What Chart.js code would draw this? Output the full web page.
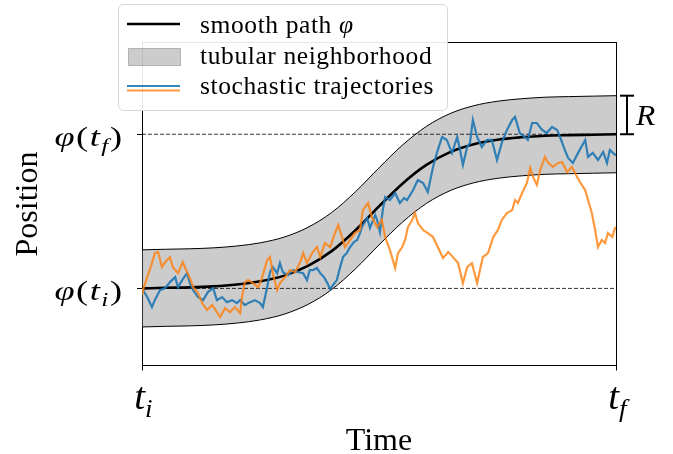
<!DOCTYPE html>
<html><head><meta charset="utf-8">
<script src="https://cdn.jsdelivr.net/npm/chart.js@4.4.1/dist/chart.umd.min.js"></script>
<style>html,body{margin:0;padding:0;background:#fff;overflow:hidden}#wrap{width:673px;height:454px}</style>
</head><body><div id="wrap"><canvas id="c" width="673" height="454"></canvas></div>
<script>
// ---- data (position in units where phi(t_i)=0, phi(t_f)=1; time in units where t_i=0, t_f=1) ----
const timeGrid = [0,0.05,0.1,0.15,0.2,0.25,0.3,0.35,0.4,0.45,0.5,0.55,0.6,0.65,0.7,0.75,0.8,0.85,0.9,0.95,1];
const smoothPath = [0,.004,.007,.013,.025,.046,.083,.146,.242,.376,.532,.681,.801,.884,.935,.964,.980,.990,.994,.997,1];
const tubeUpper = [.25,.254,.257,.263,.275,.296,.333,.396,.492,.626,.782,.931,1.051,1.134,1.185,1.214,1.23,1.24,1.244,1.247,1.25];
const tubeLower = [-.25,-.246,-.243,-.237,-.225,-.204,-.167,-.104,-.008,.126,.282,.431,.551,.634,.685,.714,.73,.74,.744,.747,.75];

const blueT = [0,.002,.011,.021,.027,.038,.049,.059,.070,.076,.086,.095,.101,.108,.118,.129,.139,.150,.158,.169,
.179,.190,.200,.207,.217,.228,.238,.249,.255,.264,.270,.276,.285,.291,.297,.308,.319,.329,.340,.348,
.354,.361,.369,.376,.384,.390,.397,.403,.411,.418,.424,.432,.439,.447,.454,.460,.464,.470,.475,.481,
.485,.492,.496,.502,.508,.513,.523,.534,.544,.553,.559,.572,.582,.593,.603,.614,.622,.633,.643,.654,
.665,.671,.677,.686,.692,.698,.707,.717,.728,.738,.749,.759,.770,.781,.787,.797,.808,.814,.823,.833,
.844,.854,.865,.876,.882,.892,.899,.909,.920,.935,.941,.951,.962,.973,.981,.987,.998,1];
const blueY = [0,-.011,-.056,-.121,-.076,-.011,.002,.041,.073,.008,.060,.099,.034,-.011,-.056,-.076,-.024,.002,-.076,-.056,
-.089,-.076,-.095,-.076,-.108,-.089,-.076,-.095,-.121,.008,.106,.138,.099,.164,.106,.086,.119,.106,.099,.054,
.119,.119,.132,.099,.073,.041,-.005,.021,.054,.138,.203,.229,.268,.301,.314,.359,.398,.431,.456,.392,
.424,.476,.444,.366,.508,.593,.573,.619,.554,.586,.573,.638,.703,.684,.625,.787,.878,.982,.963,.878,
.982,.898,.801,.917,.944,1.093,.982,.917,.963,.963,.833,.944,1.028,1.093,1.112,1.008,.982,.963,1.073,1.073,
1.028,1.008,1.047,1.028,.982,.898,.846,.814,.879,.963,.853,.879,.833,.885,.814,.898,.866,.87];

const orangeT = [0,.002,.011,.021,.027,.034,.042,.049,.059,.065,.076,.086,.095,.101,.108,.118,.127,.137,.148,.158,
.165,.175,.186,.196,.207,.211,.217,.224,.234,.245,.253,.264,.270,.276,.285,.291,.302,.312,.323,.333,
.340,.348,.359,.369,.376,.386,.397,.407,.414,.422,.428,.439,.449,.460,.466,.477,.485,.496,.506,.513,
.523,.534,.540,.549,.555,.561,.570,.576,.582,.593,.603,.614,.624,.635,.646,.656,.667,.677,.686,.696,
.707,.713,.719,.730,.741,.751,.759,.770,.781,.787,.793,.802,.812,.819,.825,.833,.840,.850,.857,.867,
.878,.886,.897,.907,.918,.924,.935,.941,.949,.956,.962,.970,.977,.983,.992,.998,1];
const orangeY = [0,-.011,.073,.164,.229,.236,.138,.171,.203,.138,.099,.171,.106,.067,.008,-.030,-.095,-.141,-.108,-.154,
-.186,-.128,-.154,-.121,-.160,-.056,.041,.054,.034,.008,.067,.184,.203,.099,-.011,.034,.073,.119,.106,.164,
.229,.164,.229,.268,.203,.294,.268,.359,.411,.333,.268,.314,.359,.379,.508,.554,.463,.398,.444,.333,
.249,.132,.229,.268,.314,.398,.444,.489,.424,.379,.359,.333,.268,.197,.236,.203,.164,.034,.138,.164,
.034,.119,.203,.229,.333,.379,.444,.489,.508,.573,.554,.619,.684,.781,.723,.671,.768,.853,.814,.788,
.814,.820,.755,.788,.723,.690,.638,.573,.489,.379,.268,.314,.294,.359,.333,.392,.39];

const yTickValues = [0, 1];
const yTickLabels = ['φ(t_i)', 'φ(t_f)'];
const xTickValues = [0, 1];
const xTickLabels = ['t_i', 't_f'];
const xTitle = 'Time';
const yTitle = 'Position';
const legendLabels = ['smooth path φ', 'tubular neighborhood', 'stochastic trajectories'];
const radiusLabel = 'R';

// ---- helpers ----
const xy = (ts, vs) => ts.map((t, i) => ({x: t, y: vs[i]}));
const SERIF = '"Liberation Serif", "DejaVu Serif", serif';

function drawMath(ctx, str, x, y, size, align, italicRe, hs, gap) {
  hs = hs || 1; gap = gap || 0;
  const parts = [];
  for (let i = 0; i < str.length; i++) {
    let c = str[i], sub = false;
    if (c === '_') { sub = true; c = str[++i]; }
    parts.push({c, sub, it: italicRe.test(c)});
  }
  const fontFor = p => (p.it ? 'italic ' : '') + (p.sub ? size * 0.7 : size) + 'px ' + SERIF;
  let w = 0;
  parts.forEach(p => { ctx.font = fontFor(p); p.w = ctx.measureText(p.c).width * hs; w += p.w; });
  w += gap * (parts.length - 1);
  let cx = align === 'right' ? x - w : align === 'center' ? x - w / 2 : x;
  ctx.textAlign = 'left';
  ctx.textBaseline = 'alphabetic';
  parts.forEach(p => {
    ctx.font = fontFor(p);
    ctx.save();
    ctx.translate(cx, y + (p.sub ? size * 0.22 : 0));
    ctx.scale(hs, 1);
    ctx.fillText(p.c, 0, 0);
    ctx.restore();
    cx += p.w + gap;
  });
}

function seg(ctx, x1, y1, x2, y2) { ctx.beginPath(); ctx.moveTo(x1, y1); ctx.lineTo(x2, y2); ctx.stroke(); }

const deco = {
  id: 'deco',
  afterDraw(chart) {
    const ctx = chart.ctx, a = chart.chartArea, xs = chart.scales.x, ys = chart.scales.y;
    ctx.save();
    ctx.fillStyle = '#000';
    ctx.strokeStyle = '#000';
    ctx.lineWidth = 1;
    // y ticks + labels
    yTickValues.forEach((v, i) => {
      const py = Math.round(ys.getPixelForValue(v)) + 0.5;
      seg(ctx, a.left - 5, py, a.left, py);
      drawMath(ctx, yTickLabels[i], a.left - 20, py + 11, 28, 'right', /[A-Za-zφ]/, 1.3, 1.5);
    });
    // x ticks + labels
    xTickValues.forEach((v, i) => {
      const px = Math.round(xs.getPixelForValue(v)) + 0.5;
      seg(ctx, px, a.bottom, px, a.bottom + 5);
      drawMath(ctx, xTickLabels[i], px + 1, a.bottom + 43, 37, 'center', /[A-Za-zφ]/, 1.05, 0);
    });
    // axis titles
    ctx.font = '32px ' + SERIF;
    ctx.textAlign = 'center';
    ctx.textBaseline = 'alphabetic';
    ctx.fillText(xTitle, (a.left + a.right) / 2, a.bottom + 84);
    ctx.save();
    ctx.translate(37, (a.top + a.bottom) / 2);
    ctx.rotate(-Math.PI / 2);
    ctx.fillText(yTitle, 0, 0);
    ctx.restore();
    // R marker (tube radius)
    const last = timeGrid.length - 1;
    const yA = ys.getPixelForValue(smoothPath[last]);
    const yB = ys.getPixelForValue(tubeUpper[last]);
    const mx = a.right + 11;
    ctx.lineWidth = 2;
    seg(ctx, mx, yA, mx, yB);
    seg(ctx, mx - 7, yA, mx + 7, yA);
    seg(ctx, mx - 7, yB, mx + 7, yB);
    drawMath(ctx, radiusLabel, mx + 9, (yA + yB) / 2 + 10, 30, 'left', /[A-Za-z]/, 1.05, 0);
    // legend
    const L = {x: 118.5, y: 4.5, w: 329, h: 106};
    ctx.beginPath();
    ctx.roundRect(L.x, L.y, L.w, L.h, 5);
    ctx.fillStyle = 'rgba(255,255,255,0.9)';
    ctx.fill();
    ctx.strokeStyle = '#d6d6d6';
    ctx.lineWidth = 1;
    ctx.stroke();
    // handles
    ctx.strokeStyle = '#000'; ctx.lineWidth = 2.5;
    seg(ctx, 127, 24, 180, 24);
    ctx.fillStyle = 'rgba(128,128,128,0.4)';
    ctx.strokeStyle = 'rgba(128,128,128,0.5)'; ctx.lineWidth = 1;
    ctx.fillRect(128.5, 48.5, 52, 17); ctx.strokeRect(128.5, 48.5, 52, 17);
    ctx.lineWidth = 2;
    ctx.strokeStyle = 'rgba(31,119,180,0.9)'; seg(ctx, 127, 86, 180, 86);
    ctx.strokeStyle = 'rgba(255,127,14,0.8)'; seg(ctx, 127, 90.5, 180, 90.5);
    ctx.fillStyle = '#000';
    try { ctx.letterSpacing = '0.6px'; } catch (e) {}
    const base = [32.5, 63.5, 94];
    legendLabels.forEach((s, i) => drawMath(ctx, s, 200, base[i], 25.5, 'left', /φ/));
    ctx.restore();
  }
};

const common = {
  grid: {display: false, drawTicks: false, tickLength: 0},
  ticks: {display: false, padding: 0},
  border: {display: true, color: '#000', width: 1}
};

new Chart(document.getElementById('c'), {
  type: 'line',
  data: {
    datasets: [
      {label: 'tube upper', data: xy(timeGrid, tubeUpper), borderColor: '#000', borderWidth: 1,
       fill: '+1', backgroundColor: 'rgba(128,128,128,0.4)', cubicInterpolationMode: 'monotone', pointRadius: 0, order: 10},
      {label: 'tube lower', data: xy(timeGrid, tubeLower), borderColor: '#000', borderWidth: 1,
       fill: false, cubicInterpolationMode: 'monotone', pointRadius: 0, order: 9},
      {label: 'phi ti', data: [{x: xTickValues[0], y: yTickValues[0]}, {x: xTickValues[1], y: yTickValues[0]}],
       borderColor: '#000', borderWidth: 0.8, borderDash: [4, 2], pointRadius: 0, fill: false, order: 8},
      {label: 'phi tf', data: [{x: xTickValues[0], y: yTickValues[1]}, {x: xTickValues[1], y: yTickValues[1]}],
       borderColor: '#000', borderWidth: 0.8, borderDash: [4, 2], pointRadius: 0, fill: false, order: 7},
      {label: 'smooth path', data: xy(timeGrid, smoothPath), borderColor: '#000', borderWidth: 2.6,
       cubicInterpolationMode: 'monotone', pointRadius: 0, fill: false, order: 5},
      {label: 'blue', data: xy(blueT, blueY), borderColor: 'rgba(31,119,180,0.9)', borderWidth: 2.2,
       pointRadius: 0, fill: false, tension: 0, order: 4},
      {label: 'orange', data: xy(orangeT, orangeY), borderColor: 'rgba(255,127,14,0.8)', borderWidth: 2.2,
       pointRadius: 0, fill: false, tension: 0, order: 3}
    ]
  },
  options: {
    responsive: false,
    animation: false,
    events: [],
    layout: {padding: {left: 142, right: 57, top: 42.5, bottom: 88.5}},
    plugins: {legend: {display: false}, tooltip: {enabled: false}},
    scales: {
      x: Object.assign({type: 'linear', min: 0, max: 1, position: 'bottom'}, common),
      y: Object.assign({type: 'linear', min: -0.5, max: 1.595, position: 'left'}, common),
      x2: Object.assign({type: 'linear', axis: 'x', min: 0, max: 1, position: 'top'}, common),
      y2: Object.assign({type: 'linear', axis: 'y', min: -0.5, max: 1.595, position: 'right'}, common)
    }
  },
  plugins: [deco]
});
</script>
</body></html>
